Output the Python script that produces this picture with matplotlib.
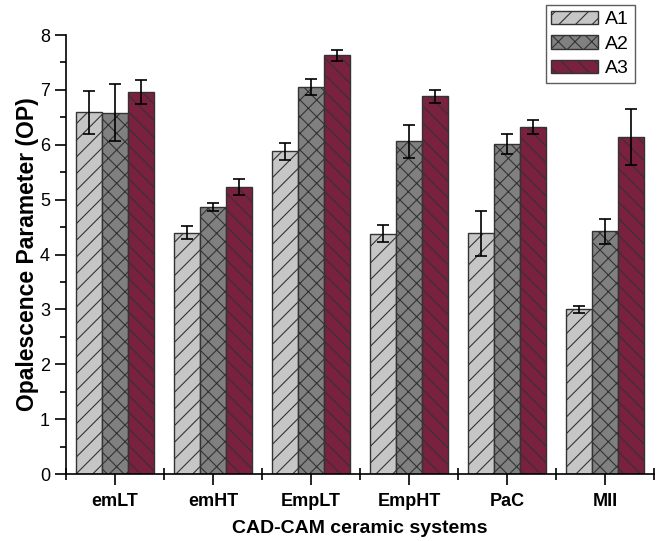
import numpy as np
import matplotlib
matplotlib.use('Agg')
import matplotlib.pyplot as plt
from matplotlib.ticker import MultipleLocator

plt.rcParams['font.family'] = ['Liberation Sans', 'DejaVu Sans']
plt.rcParams['hatch.linewidth'] = 0.8
plt.rcParams['hatch.color'] = '#222222'

systems = ['emLT', 'emHT', 'EmpLT', 'EmpHT', 'PaC', 'MII']
a1 = [6.59, 4.40, 5.88, 4.38, 4.39, 3.00]
a2 = [6.58, 4.86, 7.05, 6.06, 6.01, 4.42]
a3 = [6.96, 5.23, 7.63, 6.88, 6.32, 6.15]
a1_err = [0.39, 0.12, 0.15, 0.15, 0.41, 0.07]
a2_err = [0.52, 0.07, 0.15, 0.30, 0.18, 0.22]
a3_err = [0.22, 0.15, 0.10, 0.12, 0.13, 0.51]

series = [('A1', a1, a1_err, '#c6c6c6', '//'),
          ('A2', a2, a2_err, '#808080', 'xx'),
          ('A3', a3, a3_err, '#7b2140', '\\\\')]

fig = plt.figure(figsize=(6.59, 5.41), dpi=100)
ax = fig.add_axes([0.1002, 0.1238, 0.8922, 0.8115])

x = np.arange(len(systems))
w = 0.8 / 3
for i, (name, vals, errs, color, hatch) in enumerate(series):
    ax.bar(x + (i - 1) * w, vals, w, color=color, edgecolor='#333333',
           linewidth=1.0, hatch=hatch, label=name,
           yerr=errs, capsize=4,
           error_kw=dict(ecolor='black', elinewidth=1.2, capthick=1.2))

ax.set_xlim(-0.5, len(systems) - 0.5)
ax.set_ylim(0, 8)
ax.set_xticks(x)
ax.set_xticklabels(systems, fontweight='bold', fontsize=13)
ax.set_xticks(np.arange(-0.5, len(systems)), minor=True)
ax.yaxis.set_major_locator(MultipleLocator(1))
ax.yaxis.set_minor_locator(MultipleLocator(0.5))
ax.tick_params(axis='y', which='major', direction='out', length=8, width=1.2, labelsize=13)
ax.tick_params(axis='y', which='minor', direction='out', length=4, width=1.2)
ax.tick_params(axis='x', which='major', direction='out', length=8, width=1.2, pad=6)
ax.tick_params(axis='x', which='minor', direction='inout', length=8, width=1.2)

for side in ['top', 'right']:
    ax.spines[side].set_visible(False)
for side in ['left', 'bottom']:
    ax.spines[side].set_linewidth(1.2)

ax.set_xlabel('CAD-CAM ceramic systems', fontsize=14, fontweight='bold', labelpad=7)
ax.set_ylabel('Opalescence Parameter (OP)', fontsize=16.5, fontweight='bold', labelpad=1)

leg = fig.legend(loc='upper right', bbox_to_anchor=(0.963, 0.991), fontsize=14,
                 frameon=True, fancybox=False, edgecolor='#333333',
                 handlelength=2.4, handleheight=0.7, handletextpad=0.35,
                 labelspacing=0.35, borderpad=0.3, borderaxespad=0)
leg.get_frame().set_linewidth(1.0)

fig.savefig('out.png', dpi=100)
